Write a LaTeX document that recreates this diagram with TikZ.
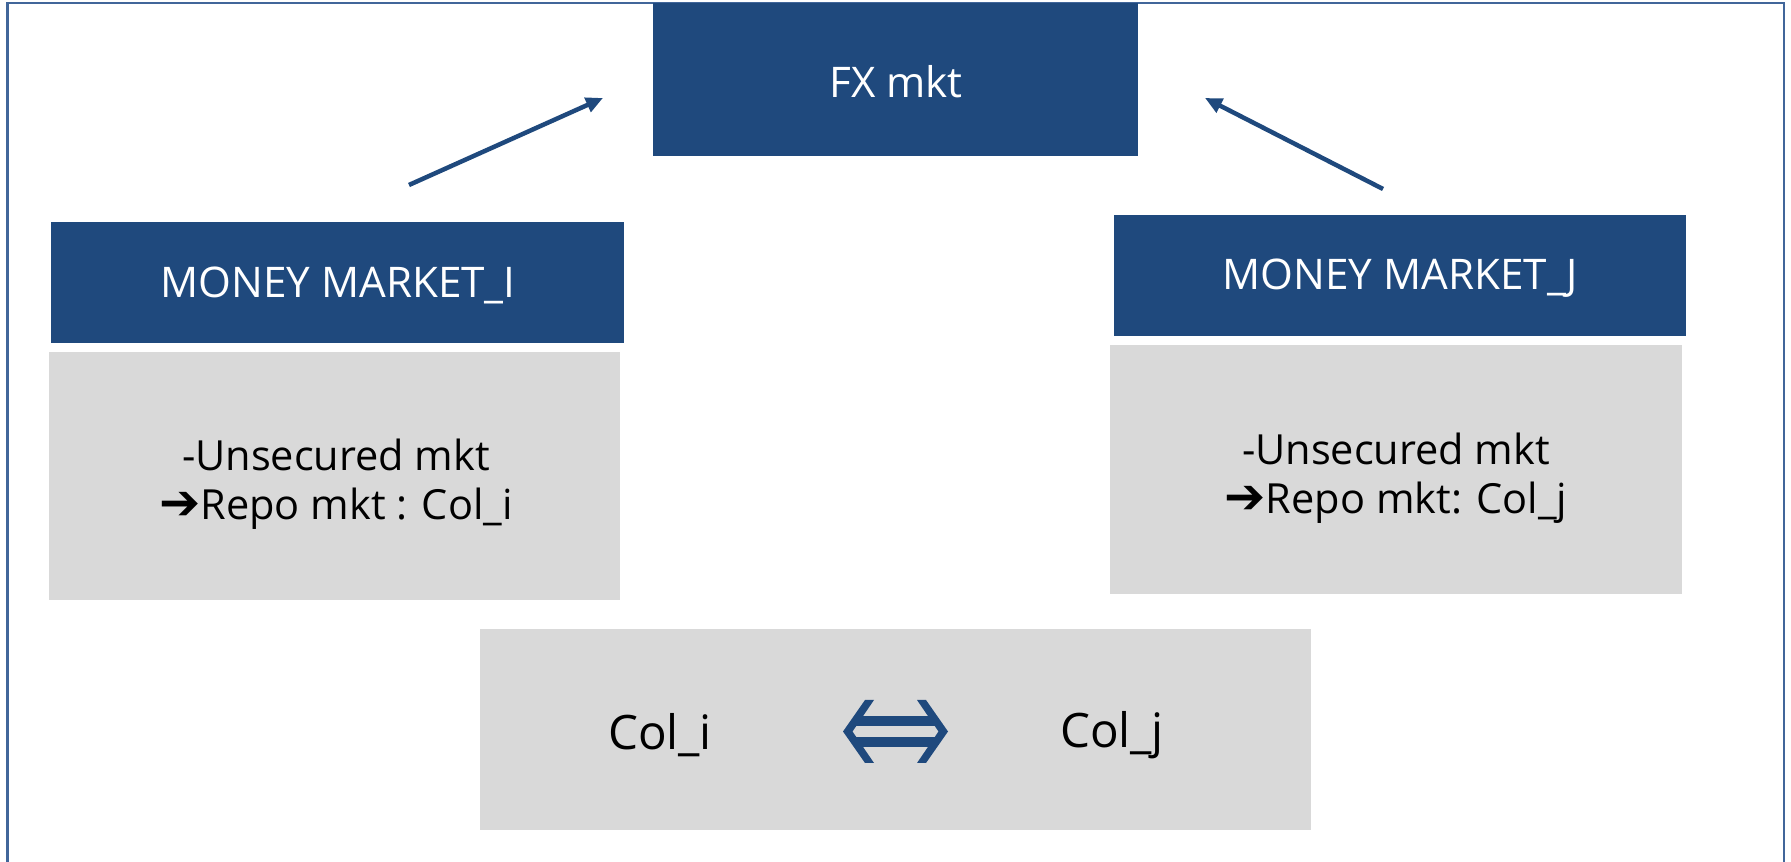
\documentclass[tikz,border=0pt]{standalone}
\usepackage{fontspec}
\setmainfont{Open Sans}
\newfontfamily\symfont{DejaVu Sans}
\usetikzlibrary{arrows.meta}
\definecolor{navy}{HTML}{1F497D}
\definecolor{boxgrey}{HTML}{D9D9D9}
\definecolor{framec}{HTML}{41669A}
\newcommand{\heavyarrow}{{\symfont\bfseries\fontsize{14pt}{14pt}\selectfont ➔}}
\begin{document}
\begin{tikzpicture}[x=0.01cm,y=-0.01cm,
  hdr/.style={fill=navy, text=white, inner sep=0pt, font=\fontsize{12pt}{14pt}\selectfont},
  hdrtext/.style={text=white, inner sep=0pt, font=\fontsize{12pt}{14pt}\selectfont},
  greybox/.style={fill=boxgrey, inner sep=0pt},
  body/.style={align=center, inner sep=0pt, font=\fontsize{11.8pt}{13.9pt}\selectfont},
  big/.style={inner sep=0pt, font=\fontsize{13.5pt}{16pt}\selectfont},
  link/.style={navy, line width=0.045cm, -{Triangle[length=0.17cm,width=0.15cm]}}]
\useasboundingbox (0,0) rectangle (1791,862);
\draw[framec, line width=0.02cm] (7.5,862) -- (7.5,3.5) -- (1784,3.5) -- (1784,862);
% boxes
\node[hdr, minimum width=4.85cm, minimum height=1.53cm] (fx) at (895.5,79.5) {};
\node[hdr, minimum width=5.73cm, minimum height=1.21cm] (mmi) at (337.5,282.5) {};
\node[hdr, minimum width=5.72cm, minimum height=1.21cm] (mmj) at (1400,275.5) {};
\node[hdrtext] (fxt) at (896,82) {FX mkt};
\node[hdrtext] (mmit) at (338,285) {MONEY MARKET\_I};
\node[hdrtext] (mmjt) at (1400,278) {MONEY MARKET\_J};
\node[greybox, minimum width=5.71cm, minimum height=2.48cm] (gi) at (334.5,476) {};
\node[greybox, minimum width=5.72cm, minimum height=2.49cm] (gj) at (1396,469.5) {};
\node[greybox, minimum width=8.31cm, minimum height=2.01cm] (gb) at (895.5,729.5) {};
% texts
\node[body] (ti) at (336,484) {-Unsecured mkt\\\heavyarrow Repo mkt : Col\_i};
\node[body] (tj) at (1396,478) {-Unsecured mkt\\\heavyarrow Repo mkt: Col\_j};
\node[big] (coli) at (660,735) {Col\_i};
\node[big] (colj) at (1112,735) {Col\_j};
% arrows
\coordinate (a1s) at (409,185);
\coordinate (a1e) at (603,98);
\coordinate (a2s) at (1383,189);
\coordinate (a2e) at (1205,98);
\draw[link] (a1s) -- (a1e);
\draw[link] (a2s) -- (a2e);
% double arrow
\coordinate (dbl) at (895.5,731.5);
\fill[navy] (865,700) -- (843,731.5) -- (865,763) -- (874,763) -- (852.5,731.5) -- (874,700) -- cycle;
\fill[navy] (926,700) -- (948,731.5) -- (926,763) -- (917,763) -- (938.5,731.5) -- (917,700) -- cycle;
\fill[navy] (856,716) rectangle (935,726);
\fill[navy] (856,737) rectangle (935,747);
\end{tikzpicture}
\end{document}
